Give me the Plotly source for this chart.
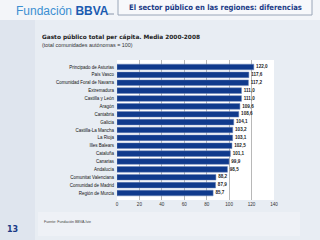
import plotly.graph_objects as go

regions = ["Principado de Asturias", "País Vasco", "Comunidad Foral de Navarra", "Extremadura",
           "Castilla y León", "Aragón", "Cantabria", "Galicia", "Castilla-La Mancha", "La Rioja",
           "Illes Balears", "Cataluña", "Canarias", "Andalucía", "Comunitat Valenciana",
           "Comunidad de Madrid", "Región de Murcia"]
values = [122.0, 117.6, 117.2, 111.0, 111.0, 109.6, 108.6, 104.1, 103.2, 103.1,
          102.5, 101.1, 99.9, 98.5, 88.2, 87.9, 85.7]
tick_vals = [0, 20, 40, 60, 80, 100, 120, 140]

W, H = 320, 240
L, R, T, B = 117, 274, 60, 200


def px(x):
    return (x - L) / (R - L)


def py(y):
    return (B - y) / (B - T)


fig = go.Figure()
fig.add_trace(go.Bar(
    x=values, y=regions, orientation="h",
    marker=dict(color="#103a8c", line=dict(color="#6f86b8", width=0.5)),
    width=0.72,
))
fig.add_trace(go.Scatter(
    x=values, y=regions, mode="text",
    text=["\u2002<b>" + f"{v:.1f}".replace(".", ",") + "</b>" for v in values],
    textposition="middle right",
    textfont=dict(size=4.6, color="#222222", family="Liberation Sans"),
    cliponaxis=False, hoverinfo="skip",
))

fig.update_layout(
    width=W, height=H,
    margin=dict(l=L, r=W - R, t=T, b=H - B),
    paper_bgcolor="#e8edf3", plot_bgcolor="#ffffff",
    showlegend=False,
    font=dict(family="Liberation Sans", color="#222222"),
    xaxis=dict(range=[0, 140], tickvals=tick_vals, showgrid=True, gridcolor="#b8b8b8",
               gridwidth=0.6, zeroline=False, showline=False, ticks="",
               tickfont=dict(size=4.6, color="#333333"), fixedrange=True),
    yaxis=dict(autorange="reversed", showgrid=False, ticks="", showline=False,
               tickfont=dict(size=4.5, color="#111111"), ticklabelstandoff=2),
    shapes=[
        dict(type="rect", xref="paper", yref="paper", x0=px(0), x1=px(35), y0=py(240), y1=py(0),
             fillcolor="#dfe5ee", line=dict(width=0), layer="below"),
        dict(type="rect", xref="paper", yref="paper", x0=px(0), x1=px(320), y0=py(20), y1=py(0),
             fillcolor="#f3f5f9", line=dict(width=0), layer="below"),
        dict(type="rect", xref="paper", yref="paper", x0=px(38), x1=px(300), y0=py(236), y1=py(212),
             fillcolor="#eef1f6", line=dict(width=0), layer="below"),
        dict(type="rect", xref="paper", yref="paper", x0=px(118), x1=px(312), y0=py(15), y1=py(-1),
             fillcolor="#f7f8fb", line=dict(color="#9aa6b8", width=1), layer="below"),
        dict(type="line", xref="paper", yref="paper", x0=px(108), x1=px(114), y0=py(14), y1=py(14),
             line=dict(color="#8a96aa", width=1)),
    ],
    annotations=[
        dict(xref="paper", yref="paper", x=px(14), y=py(11), xanchor="left", yanchor="middle",
             text="<span style='color:#3c8fd2'>Fundación</span> <b style='color:#1b5bb0'>BBVA</b>",
             showarrow=False, font=dict(size=12, family="Liberation Sans")),
        dict(xref="paper", yref="paper", x=px(215), y=py(7), xanchor="center", yanchor="middle",
             text="<b>El sector público en las regiones: diferencias</b>",
             showarrow=False, font=dict(size=7.6, color="#1a3a86", family="DejaVu Sans Condensed")),
        dict(xref="paper", yref="paper", x=px(40), y=py(38), xanchor="left", yanchor="middle",
             text="<b>Gasto público total per cápita. Media 2000-2008</b>",
             showarrow=False, font=dict(size=5.8, color="#222222", family="DejaVu Sans")),
        dict(xref="paper", yref="paper", x=px(40), y=py(45), xanchor="left", yanchor="middle",
             text="(total comunidades autónomas = 100)",
             showarrow=False, font=dict(size=5.4, color="#333333", family="Liberation Sans")),
        dict(xref="paper", yref="paper", x=px(42), y=py(222), xanchor="left", yanchor="middle",
             text="Fuente: Fundación BBVA-Ivie",
             showarrow=False, font=dict(size=3.6, color="#444444", family="Liberation Sans")),
        dict(xref="paper", yref="paper", x=px(5), y=py(229), xanchor="left", yanchor="middle",
             text="<b>13</b>",
             showarrow=False, font=dict(size=8, color="#1a3a86", family="DejaVu Sans")),
    ],
)

fig.write_html("out.html")
